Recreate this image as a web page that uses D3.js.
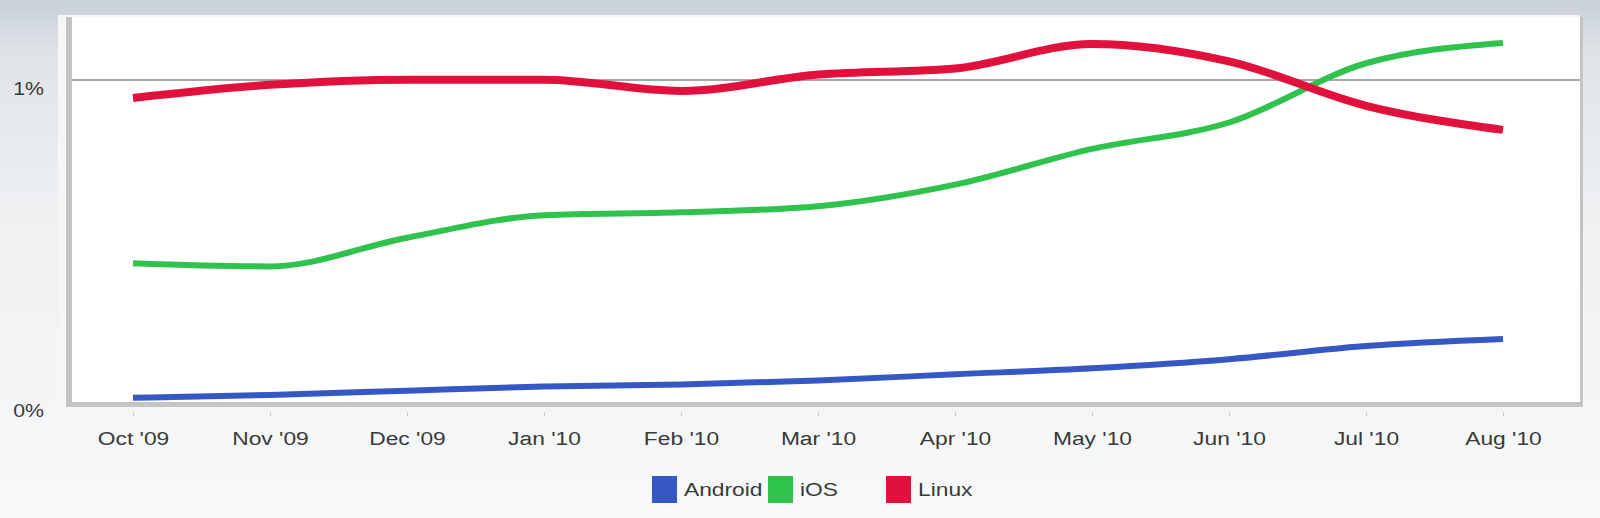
<!DOCTYPE html>
<html>
<head>
<meta charset="utf-8">
<script src="https://cdn.jsdelivr.net/npm/d3@7"></script>
<style>
  html, body { margin: 0; padding: 0; }
  body { width: 1600px; height: 518px; overflow: hidden; }
  svg { display: block; font-family: "Liberation Sans", Arial, sans-serif; }
</style>
</head>
<body>
<svg id="chart"></svg>
<script>
const months = ["Oct '09", "Nov '09", "Dec '09", "Jan '10", "Feb '10", "Mar '10", "Apr '10", "May '10", "Jun '10", "Jul '10", "Aug '10"];
const android = [0.013, 0.022, 0.035, 0.048, 0.054, 0.067, 0.086, 0.105, 0.133, 0.174, 0.196];
const ios = [0.431, 0.421, 0.510, 0.580, 0.589, 0.608, 0.675, 0.786, 0.868, 1.052, 1.115];
const linux = [0.944, 0.985, 1.001, 1.001, 0.966, 1.017, 1.036, 1.112, 1.058, 0.920, 0.845];
const yTicks = [0, 1];

const series = [
  { name: "Android", values: android, color: "#3558c4", width: 6 },
  { name: "iOS", values: ios, color: "#2fc24c", width: 6 },
  { name: "Linux", values: linux, color: "#e2103c", width: 8 }
];

const W = 1600, H = 518;
const plot = { left: 72, right: 1580, top: 17, bottom: 402 };
const stretch = 1.2; // text in the source is wide

const svg = d3.select("#chart").attr("width", W).attr("height", H);

// background gradient
const defs = svg.append("defs");
const grad = defs.append("linearGradient").attr("id", "bg")
  .attr("x1", 0).attr("y1", 0).attr("x2", 0).attr("y2", 1);
grad.append("stop").attr("offset", "0%").attr("stop-color", "#c8d0d8");
grad.append("stop").attr("offset", "10%").attr("stop-color", "#dfe3e8");
grad.append("stop").attr("offset", "40%").attr("stop-color", "#eef0f2");
grad.append("stop").attr("offset", "100%").attr("stop-color", "#f8f9f9");
svg.append("rect").attr("width", W).attr("height", H).attr("fill", "url(#bg)");

// plot frame
svg.append("rect")
  .attr("x", plot.left - 14).attr("y", plot.top - 2)
  .attr("width", plot.right - plot.left + 14).attr("height", plot.bottom - plot.top + 7)
  .attr("fill", "#f6f6f7");
svg.append("rect")
  .attr("x", plot.left - 6).attr("y", plot.top)
  .attr("width", plot.right - plot.left + 9).attr("height", plot.bottom - plot.top + 5)
  .attr("fill", "#c4c4c4");
svg.append("rect")
  .attr("x", plot.left).attr("y", plot.top)
  .attr("width", plot.right - plot.left).attr("height", plot.bottom - plot.top)
  .attr("fill", "#ffffff");

const x = d3.scalePoint().domain(months).range([133, 1503]);
const y = d3.scaleLinear().domain([0, 1]).range([plot.bottom, 80]);

// grid line at 1%
svg.append("g")
  .selectAll("line")
  .data(yTicks.filter(d => d > 0))
  .join("line")
  .attr("x1", plot.left).attr("x2", plot.right)
  .attr("y1", d => y(d)).attr("y2", d => y(d))
  .attr("stroke", "#a6a6a6").attr("stroke-width", 2);

// y axis labels
const yAxis = d3.axisLeft(y).tickValues(yTicks).tickFormat(d => d + "%").tickSize(0).tickPadding(0);
svg.append("g")
  .attr("transform", `translate(44,8)`)
  .call(yAxis)
  .call(g => g.select(".domain").remove())
  .call(g => g.selectAll("text")
    .attr("font-size", 19)
    .attr("fill", "#3a3a3a")
    .attr("font-family", "Liberation Sans, Arial, sans-serif")
    .attr("transform", "scale(1.12,1)"));

// x axis
const xAxis = d3.axisBottom(x).tickSize(4).tickPadding(16);
svg.append("g")
  .attr("transform", `translate(0,${plot.bottom + 10})`)
  .call(xAxis)
  .call(g => g.select(".domain").remove())
  .call(g => g.selectAll(".tick line").attr("stroke", "#c8c8c8"))
  .call(g => g.selectAll("text")
    .attr("font-size", 19)
    .attr("fill", "#3a3a3a")
    .attr("font-family", "Liberation Sans, Arial, sans-serif")
    .attr("transform", `scale(${stretch},1)`));

// lines
const line = d3.line()
  .x((d, i) => x(months[i]))
  .y(d => y(d))
  .curve(d3.curveMonotoneX);

svg.append("g")
  .selectAll("path")
  .data(series)
  .join("path")
  .attr("fill", "none")
  .attr("stroke", d => d.color)
  .attr("stroke-width", d => d.width)
  .attr("stroke-linejoin", "round")
  .attr("d", d => line(d.values));

// legend
const legendX = [652, 768, 886];
const legend = svg.append("g")
  .selectAll("g")
  .data(series)
  .join("g")
  .attr("transform", (d, i) => `translate(${legendX[i]},476)`);
legend.append("rect")
  .attr("width", 25).attr("height", 27)
  .attr("fill", d => d.color);
legend.append("g")
  .attr("transform", "translate(32,20)")
  .append("text")
  .attr("font-size", 19)
  .attr("fill", "#3a3a3a")
  .attr("transform", `scale(${stretch},1)`)
  .text(d => d.name);
</script>
</body>
</html>
